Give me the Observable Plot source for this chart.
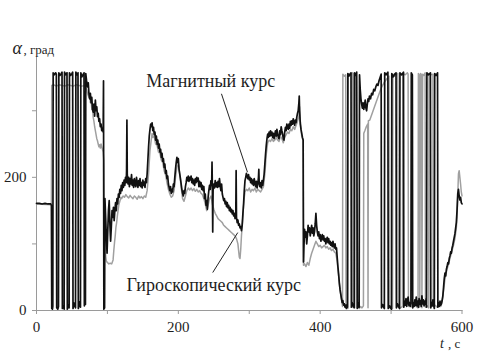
<!DOCTYPE html>
<html><head><meta charset="utf-8">
<script src="https://cdn.jsdelivr.net/npm/d3@7"></script>
<script src="https://cdn.jsdelivr.net/npm/@observablehq/plot@0.6"></script>
<style>
html,body{margin:0;padding:0;background:#fff;}
#chart svg, #chart svg text{font-family:"Liberation Serif","Times New Roman","DejaVu Serif",serif !important;}
#chart svg text{fill:#1e1e1e;}
</style></head><body><div id="chart"></div>
<script>
// Magnetic heading (black): time, s
const magT = [0,4,8,12,16,20,21,21.5,
22.5,23,23.5,25,27,28,28.5,30,31,31.5,33,35,36,36.5,38,39,39.5,41,43,43.5,45,46,46.5,48,50,51,51.5,53,55,55.5,57,58.5,59,60.5,62,62.5,64,66,67,67.5,68.5,69,69.5,70.5,72,73,74,75,76,77,78,79,80,81,82,83,84,85,86,87,88,89,90,91,92,93,94,94.5,95,96,
96.5,97.5,98.5,99.5,100.5,101.5,102.5,103.5,104.5,105.5,106.5,107.5,108.5,109.5,110.5,111.5,112.5,113.5,114.5,115.5,116.5,117.5,118.5,119.5,120.5,121.5,122.5,123.5,124.5,125.5,126.5,127,127.5,128,129,130,131,132,133,134,135,136,137,138,139,140,141,142,143,144,145,146,147,148,149,150,151,152,153,154,155,156,157,158,159,160,161,162,163,164,165,166,167,168,169,170,171,172,173,174,175,176,177,178,179,180,181,182,183,184,185,186,187,188,189,190,191,192,193,194,195,196,197,198,199,200,201,202,203,204,205,206,207,208,209,210,211,212,213,214,215,216,217,218,219,220,221,222,223,224,225,226,227,228,229,230,231,232,233,234,235,236,237,238,239,240,241,242,243,244,245,246,247,247.5,248,248.5,249,250,251,252,253,254,255,256,257,258,259,260,261,262,263,264,265,266,267,268,269,270,271,272,273,274,275,276,277,278,279,280,281,281.5,282,283,284,285,286,287,288,289,290,291,292,293,294,295,296,297,298,299,300,301,302,303,304,305,306,307,308,309,310,311,312,313,313.5,314,315,316,317,318,319,320,321,322,323,324,325,326,327,328,329,330,331,332,333,334,335,336,337,338,339,340,341,342,343,344,345,346,347,348,349,350,351,352,353,354,355,356,357,358,359,360,361,362,363,364,365,366,367,368,369,370,370.5,371,372,373,374,375,376,376.5,377,378,379,380,381,382,383,384,385,386,387,388,389,390,391,392,393,394,395,396,397,398,399,400,401,402,403,404,405,406,407,408,409,410,411,412,413,414,415,416,417,418,419,420,421,422,423,424,425,426,427,428,429,430,431,432,433,434,435,436,437,438,438.5,
439,440.5,442,443.5,444,445,446.5,448,448.5,450,451.5,452.5,453.5,455,455.5,456.5,457.5,458.5,459.5,460.5,461.5,462.5,463.5,464.5,465.5,466.5,467.5,468.5,469.5,471,472.5,474,475.5,477,478.5,480,481.5,483,484.5,486,486.5,488,489.5,490.5,491,493,495.5,496,497.5,500.5,501,503,505,507,507.5,509,511,512,512.5,515,517.5,518,519,520,521,522,523,524,525,526,527,528,528.5,530,530.5,531.5,532.5,533.5,534.5,535.5,536.5,537.5,538.5,539.5,540.5,541.5,542.5,543.5,544.5,545.5,546.5,547.5,548.5,549.5,550,550.5,552.5,555.5,556,557,558,559,560,561,561.5,563.5,565.5,566,567,568,569,570,571,572,573,574,575,576,577,578,579,580,581,582,583,584,585,586,587,588,590,592,593,594,595,596,597,598,599,600];
// Magnetic heading (black): angle, deg
const magV = [161,161,160,161,160,160,158,3,
2,6,357,354,357,355,4,2,6,357,353,356,358,3,7,2,358,354,357,2,9,4,357,353,356,358,3,11,4,358,354,357,3,13,5,357,351,355,357,7,22,9,356,346,336,342,325,318,326,312,320,302,298,310,292,316,300,306,291,296,284,288,276,280,270,274,268,345,2,4,
168,140,110,86,120,150,165,130,104,125,150,140,155,135,150,162,150,168,160,175,170,182,176,188,180,192,185,196,188,200,192,210,286,205,190,200,186,198,190,204,188,196,185,198,190,186,200,192,185,195,188,198,186,192,184,196,188,193,185,198,192,205,225,245,262,272,280,276,282,270,275,264,268,256,262,250,256,244,250,238,242,230,236,224,228,215,220,206,210,198,202,190,185,180,186,176,182,178,190,186,200,212,222,230,222,228,212,205,198,190,182,176,172,180,176,186,192,200,195,202,194,200,196,202,192,198,190,196,188,198,192,200,194,199,186,194,186,192,182,188,180,186,168,175,158,165,152,170,180,188,182,195,188,223,185,118,180,190,184,195,186,192,185,194,186,198,188,180,190,175,170,165,168,160,164,156,162,154,158,150,155,148,152,145,150,142,146,138,142,210,140,132,136,128,130,124,126,120,128,145,160,180,195,200,206,202,198,204,196,200,192,198,190,196,188,198,192,186,194,184,190,200,212,192,186,192,184,195,188,196,205,220,235,248,258,265,260,268,262,270,263,268,260,266,258,264,270,262,272,265,260,258,270,264,276,270,265,258,256,268,275,270,280,276,272,280,274,284,278,285,280,288,283,278,286,282,290,296,300,312,322,300,280,272,266,260,256,73,92,122,110,118,100,112,128,118,124,112,120,128,116,124,112,118,130,146,128,118,112,118,108,114,104,110,114,106,112,104,108,100,106,110,102,108,100,104,98,102,96,104,98,94,100,92,94,80,66,55,42,32,25,18,12,15,8,10,5,8,3,9,5,
356,352,355,357,5,12,7,4,357,353,358,3,11,5,354,332,318,310,304,312,302,308,316,304,300,310,318,314,322,318,326,324,332,330,336,340,338,345,350,355,4,9,5,3,357,354,358,3,7,2,356,351,355,357,4,10,5,3,357,354,358,5,14,8,18,6,15,20,8,12,6,10,357,354,4,12,6,16,8,20,7,14,5,18,9,15,6,22,10,16,7,14,9,18,5,357,354,357,4,12,7,16,8,3,356,353,357,5,12,6,14,8,10,15,22,35,48,56,52,62,66,72,70,78,82,88,86,94,98,104,115,132,150,175,182,172,166,170,162,160];

// Gyroscopic heading (grey)
const gyroT = [0,21,21.5,24,28,32,36,40,44,48,52,56,60,64,68,70,72,74,75,76,77,78,79,80,81,82,83,84,85,86,87,88,89,90,91,92,93,94,95,95.5,96.5,97.5,98.5,100,102,104,106,108,109,110,111,112,113,114,115,116,117,118,119,120,122,124,126,128,130,132,134,136,138,140,142,144,146,148,150,152,154,156,158,160,162,163,164,166,168,170,172,174,176,178,180,182,184,186,188,190,192,194,196,198,200,202,204,206,208,210,212,214,216,218,220,222,224,226,228,230,232,234,236,238,240,242,244,246,248,250,252,254,256,258,260,262,264,266,268,270,272,274,276,278,280,282,284,285,286,287,288,289,290,291,292,293,294,296,298,300,302,304,306,308,310,312,314,316,318,320,322,324,326,328,330,332,334,336,338,340,342,344,346,348,350,352,354,356,358,360,362,364,366,368,370,371,372,374,376,376.5,378,380,382,384,386,388,390,392,394,396,398,400,402,404,406,408,410,412,414,416,418,420,422,424,426,428,430,431.5,432,434,436,436.5,438,439,439.5,441,443,445.5,446,447,449,450.5,451,453,455,457,459,461,461.5,463,465,467,467.5,468,470,472,474,476,478,480,482,484,486,488,490,492,494,496,497,497.5,499,502,502.5,505,508,509.5,510,513,516,516.5,520,523,524,524.5,527,530,534,538,538.5,540,540.5,541.5,543,543.5,544.5,546,548,548.5,551,553,553.5,556,559,559.5,562,565,568,570,572,574,576,578,580,582,584,586,588,590,592,593,594,595,596,597,598,599,600];
const gyroV = [160,159,338,339,337,339,338,337,339,338,337,339,338,337,338,334,326,320,324,312,316,302,306,290,284,276,270,264,258,255,250,246,249,244,250,246,242,238,225,175,130,82,74,72,70,71,70,76,90,102,112,125,132,142,150,158,162,166,170,168,172,170,174,171,169,173,170,168,172,170,167,172,169,171,168,172,170,180,205,240,258,266,260,262,250,248,238,236,226,222,210,204,192,182,175,170,172,180,200,215,220,205,185,168,164,172,180,184,181,184,180,183,179,182,178,180,176,174,168,160,150,158,168,172,160,152,146,142,138,136,134,132,128,126,124,122,120,118,116,114,112,108,100,90,80,78,92,112,125,140,158,170,178,182,180,184,178,182,180,184,178,182,180,178,182,186,205,235,252,256,254,258,254,256,260,256,254,262,258,252,260,264,268,266,272,270,276,272,278,284,292,306,285,262,255,68,70,66,72,68,78,86,92,98,104,100,96,98,94,96,98,94,96,92,94,90,92,88,86,74,52,30,18,6,355,352,354,4,6,3,356,353,355,357,5,356,353,355,4,7,3,6,4,7,266,270,276,280,4,285,286,292,298,304,310,316,322,328,334,338,342,345,348,350,352,4,7,3,355,352,355,356,5,4,6,356,354,357,355,6,8,5,7,4,356,353,5,356,354,4,355,353,357,5,7,4,356,354,355,6,8,5,9,6,14,30,48,58,66,74,82,90,98,108,124,140,172,205,210,200,190,178,172];

// Axis ticks and labels
const xTicks = [0,100,200,300,400,500,600];
const yTicks = [0,100,200,300];
const labelledTicks = [0,200,400,600];

// Annotations (data coordinates)
const noteText = ["Магнитный курс", "Гироскопический курс"];
const noteT = [245.7, 249.9];
const noteV = [335, 30];
const leadT1 = [260.8, 248.5];
const leadV1 = [325.5, 57];
const leadT2 = [297.5, 283.8];
const leadV2 = [207.7, 117];

const mag = magT.map((t, i) => ({t, v: magV[i]}));
const gyro = gyroT.map((t, i) => ({t, v: gyroV[i]}));
const notes = noteText.map((s, i) => ({s, t: noteT[i], v: noteV[i]}));
const leads = leadT1.map((t, i) => ({t1: t, v1: leadV1[i], t2: leadT2[i], v2: leadV2[i]}));

const fmt = d => labelledTicks.includes(d) ? String(d) : "";
const serif = "'Liberation Serif', 'Times New Roman', 'DejaVu Serif', serif";

const chart = Plot.plot({
  width: 477,
  height: 352,
  marginLeft: 36,
  marginRight: 15.5,
  marginTop: 57,
  marginBottom: 42,
  style: {fontFamily: serif, fontSize: "15px", color: "#9a9a9a", background: "#fff"},
  x: {domain: [0, 600], ticks: xTicks, tickFormat: fmt, tickSize: 4, tickPadding: 7, line: true, label: null},
  y: {domain: [0, 380], ticks: yTicks, tickFormat: fmt, tickSize: 4, tickPadding: 6, line: true, label: null},
  marks: [
    Plot.line(gyro, {x: "t", y: "v", stroke: "#a0a0a0", strokeWidth: 1.5}),
    Plot.line(mag, {x: "t", y: "v", stroke: "#111", strokeWidth: 1.7}),
    Plot.link(leads, {x1: "t1", y1: "v1", x2: "t2", y2: "v2", stroke: "#222", strokeWidth: 1}),
    Plot.text(notes, {x: "t", y: "v", text: "s", textAnchor: "middle", lineAnchor: "bottom", fontSize: 18, fontFamily: serif, fill: "#1e1e1e"}),
    Plot.text(["α"], {frameAnchor: "top-left", dx: -24, dy: -4, lineAnchor: "bottom", textAnchor: "start", fontStyle: "italic", fontSize: 18, fontFamily: serif, fill: "#1e1e1e"}),
    Plot.text([", град"], {frameAnchor: "top-left", dx: -13, dy: -4, lineAnchor: "bottom", textAnchor: "start", fontSize: 13, fontFamily: serif, fill: "#1e1e1e"}),
    Plot.text(["t"], {frameAnchor: "bottom-right", dx: -22, dy: 37, lineAnchor: "bottom", textAnchor: "start", fontStyle: "italic", fontSize: 14, fontFamily: serif, fill: "#1e1e1e"}),
    Plot.text([", c"], {frameAnchor: "bottom-right", dx: -14, dy: 37, lineAnchor: "bottom", textAnchor: "start", fontSize: 13, fontFamily: serif, fill: "#1e1e1e"})
  ]
});
document.getElementById("chart").appendChild(chart);
</script></body></html>
